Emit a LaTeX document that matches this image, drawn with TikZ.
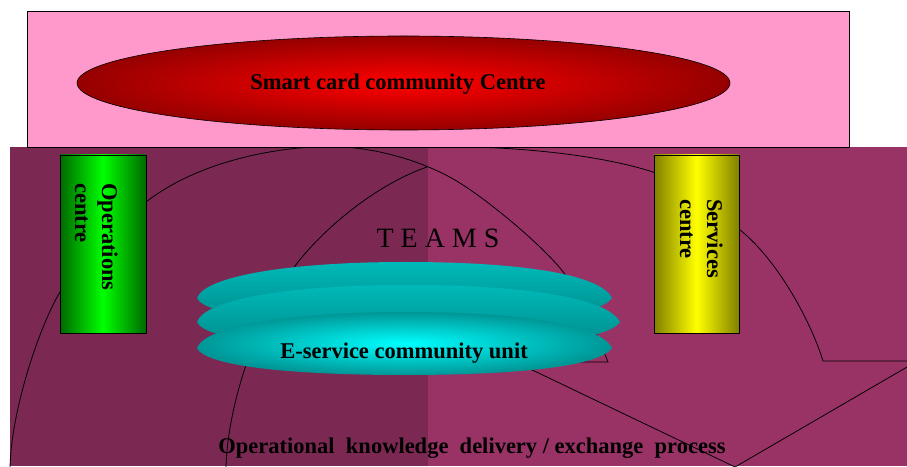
\documentclass[tikz,border=0pt]{standalone}
\usepackage{fontspec}
\setmainfont{Liberation Serif}
\definecolor{pinkbg}{RGB}{255,153,204}
\definecolor{plumR}{RGB}{153,51,102}
\definecolor{plumL}{RGB}{123,41,82}
\definecolor{redC}{RGB}{255,0,0}
\definecolor{redD}{RGB}{150,0,0}
\definecolor{grnD}{RGB}{0,105,0}
\definecolor{grnB}{RGB}{0,255,0}
\definecolor{yelD}{RGB}{128,128,0}
\definecolor{yelB}{RGB}{255,255,0}
\definecolor{tealA}{RGB}{0,185,185}
\definecolor{tealB}{RGB}{0,138,138}
\definecolor{tealM}{RGB}{0,150,150}
\definecolor{cyanB}{RGB}{0,255,255}
\begin{document}
\begin{tikzpicture}[x=1pt,y=1pt,
  curve/.style={draw=black,line width=0.8pt},
  lbl/.style={inner sep=0pt,anchor=base,font=\fontsize{22.5}{27}\selectfont\bfseries},
  rotlbl/.style={inner sep=0pt,rotate=-90,anchor=north west,align=left,font=\fontsize{22.5}{27}\selectfont\bfseries},
  teamslbl/.style={inner sep=0pt,anchor=base,font=\fontsize{28}{32}\selectfont},
  boxline/.style={draw=black,line width=0.6pt}]
\useasboundingbox (0,0) rectangle (907,466);
% background regions
\fill[plumR] (10,0) rectangle (907,319);
\fill[plumL] (10,0) rectangle (428,319);
% arcs
\draw[curve] (10,-2) .. controls (11,56) and (40,141) .. (60,174)
  .. controls (85,207) and (116,243) .. (146,264)
  .. controls (200,306) and (280,319.5) .. (330,319.5)
  .. controls (375,319.5) and (428,304) .. (463,281)
  .. controls (491,263) and (538,224) .. (560,198)
  .. controls (580,174) and (596,134) .. (608,104) -- (560,104);
\draw[curve] (226,-2) .. controls (227,51) and (250,136) .. (295,200)
  .. controls (322,236) and (375,281) .. (427,299);
\draw[curve] (440,319.5) .. controls (520,319.5) and (600,311) .. (653,294)
  .. controls (680,281) and (715,261) .. (739,237)
  .. controls (780,204) and (812,141) .. (823,105) -- (910,105);
\coordinate (vl) at (480,121);
\coordinate (va) at (735,-1);
\coordinate (vr) at (910,100.7);
\draw[curve] (vl) -- (va) -- (vr);
% top pink panel and ellipse
\filldraw[fill=pinkbg,draw=black,line width=0.5pt] (27,319) rectangle (849,455);
\shadedraw[inner color=redC,outer color=redD,draw=black,line width=0.6pt] (403.5,383) ellipse[x radius=326.5,y radius=47];
\node[lbl] (scc) at (398,376) {Smart card community Centre};
% side boxes
\shadedraw[left color=grnD,right color=grnD,middle color=grnB,boxline] (60,133) rectangle (146,311);
\shadedraw[left color=yelD,right color=yelD,middle color=yelB,boxline] (654,133) rectangle (739,311);
\node[rotlbl] (ops) at (118,283) {Operations\\centre};
\node[rotlbl] (svc) at (723,267) {Services\\centre};
% stacked discs
\shade[top color=tealA,bottom color=tealB] (197,168)
  .. controls (205,190) and (290,204) .. (405,204)
  .. controls (520,204) and (600,192) .. (612,168)
  .. controls (600,150) and (520,141) .. (405,141)
  .. controls (290,141) and (205,150) .. cycle;
\shade[top color=tealA,bottom color=tealB] (197,144)
  .. controls (205,167) and (290,181) .. (408,181)
  .. controls (525,181) and (608,168) .. (620,144)
  .. controls (608,126) and (525,117) .. (408,117)
  .. controls (290,117) and (205,126) .. cycle;
\shade[inner color=cyanB,outer color=tealM] (197,118)
  .. controls (205,140) and (290,154) .. (405,154)
  .. controls (520,154) and (600,142) .. (612,118)
  .. controls (600,100) and (520,91) .. (405,91)
  .. controls (290,91) and (205,100) .. cycle;
\node[lbl] (esc) at (404,108) {E-service community unit};
\node[teamslbl] (teams) at (438,218) {T E A M S};
\node[lbl] (okd) at (472,13) {Operational\ \ knowledge\ \ delivery / exchange\ \ process};
\end{tikzpicture}
\end{document}
